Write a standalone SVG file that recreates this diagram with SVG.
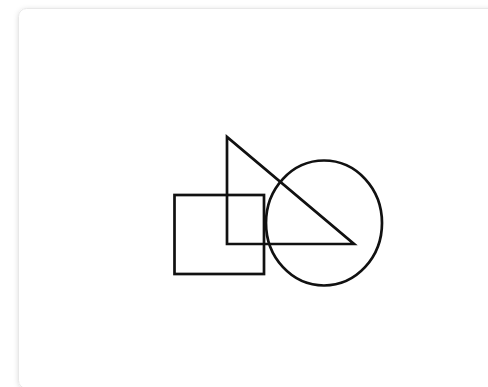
<svg xmlns="http://www.w3.org/2000/svg" width="488" height="387" viewBox="0 0 488 387">
  <style>
    .shape { fill: none; stroke: #111111; stroke-width: 2.7; stroke-linejoin: miter; }
    .card { fill: #ffffff; stroke: #e8e8e8; stroke-width: 1; }
  </style>
  <defs>
    <filter id="shadow" x="-10%" y="-10%" width="120%" height="120%">
      <feDropShadow dx="0" dy="1" stdDeviation="2.5" flood-color="#000000" flood-opacity="0.14"/>
    </filter>
  </defs>
  <rect width="488" height="387" fill="#ffffff"/>
  <g id="card">
    <rect class="card" x="18.5" y="8.5" width="480" height="380" rx="8" filter="url(#shadow)"/>
  </g>
  <g id="square">
    <rect class="shape" x="174.5" y="195" width="89.5" height="79"/>
  </g>
  <g id="triangle">
    <polygon class="shape" points="227,137 227,244 354,244"/>
  </g>
  <g id="circle">
    <ellipse class="shape" cx="324" cy="223" rx="58" ry="62.5"/>
  </g>
  <g id="connectors"></g>
</svg>
